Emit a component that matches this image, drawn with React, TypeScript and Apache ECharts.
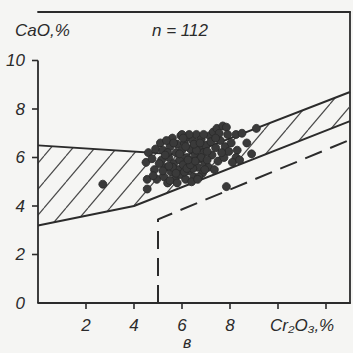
import React, { useEffect, useRef } from "react";
import * as echarts from "echarts";

// ---- data ----
const xTickValues = [2, 4, 6, 8, 10, 12];
const xLabelValues = [2, 4, 6, 8];
const yTickValues = [2, 4, 6, 8, 10];
const yAxisLineExtent = [0, 10];

const upperBound = [
  [0, 6.5],
  [6.2, 6.1],
  [13, 8.7],
];
const lowerBound = [
  [0, 3.2],
  [4, 4.0],
  [13, 7.5],
];
const dashedBound = [
  [5, 0],
  [5, 3.45],
  [13, 6.73],
];

const samples = [
  [4.5, 5.8], [4.6, 6.2], [4.55, 5.1], [4.55, 4.7], [4.85, 5.5], [4.95, 5.1], [4.75, 5.95], [4.9, 6.35], [4.8, 5.25],
  [5.1, 6.6], [5.2, 6.3], [5.15, 5.9], [5.3, 5.6], [5.25, 5.2], [5.4, 4.95], [5.45, 6.0], [5.5, 6.45], [5.55, 5.4],
  [5.6, 6.8], [5.65, 5.75], [5.7, 5.1], [5.75, 6.2], [5.8, 6.55], [5.85, 5.5], [5.9, 5.9], [5.95, 6.9], [5.35, 6.7],
  [5.05, 5.75], [5.5, 5.05], [5.8, 4.95], [5.95, 5.3], [5.4, 6.2], [5.65, 6.6], [5.2, 5.45],
  [6.0, 6.3], [6.05, 5.7], [6.1, 6.6], [6.15, 5.1], [6.2, 6.0], [6.25, 6.85], [6.3, 5.45], [6.35, 6.35], [6.4, 5.85],
  [6.45, 6.7], [6.5, 5.2], [6.55, 6.1], [6.6, 6.95], [6.65, 5.6], [6.7, 6.45], [6.75, 5.95], [6.8, 6.75], [6.85, 5.35],
  [6.9, 6.2], [6.95, 5.75], [6.1, 5.4], [6.3, 6.95], [6.45, 5.55], [6.6, 6.3], [6.2, 5.55], [6.5, 6.55], [6.8, 6.0],
  [6.0, 6.95], [6.4, 5.0], [6.7, 5.2],
  [7.0, 6.5], [7.1, 5.6], [7.15, 6.9], [7.25, 6.1], [7.3, 7.05], [7.4, 6.4], [7.45, 7.2], [7.5, 5.85], [7.6, 6.7],
  [7.7, 7.3], [7.75, 6.0], [7.8, 6.45], [7.85, 7.25], [7.9, 6.95], [7.95, 6.25], [7.05, 5.9], [7.35, 5.5], [7.55, 7.0],
  [7.65, 6.2], [7.2, 6.65],
  [8.05, 6.6], [8.25, 6.95], [8.3, 6.3], [8.25, 6.0], [8.5, 7.0], [8.9, 6.15], [9.1, 7.2], [8.1, 5.8], [8.7, 6.6], [8.4, 5.9],
  [2.7, 4.9], [7.85, 4.8],
  [5.3, 6.1], [5.6, 5.6], [5.9, 6.15], [6.15, 6.45], [6.35, 5.7], [6.55, 5.85], [6.75, 6.6], [6.9, 6.95], [7.05, 6.25],
  [5.75, 5.35], [6.25, 5.9], [6.65, 5.1], [5.45, 5.65], [6.05, 6.8], [7.4, 6.8], [6.95, 5.5],
];

const sampleCountLabel = "n = 112";
const yTitle = "CaO,%";
const xTitle = "Cr₂O₃,%";
const panelLabel = "в";

const INK = "#2b2b2b";
const FONT = "'Liberation Sans', 'DejaVu Sans', sans-serif";

function makeHatch(): HTMLCanvasElement {
  const w = 22;
  const h = 26;
  const c = document.createElement("canvas");
  c.width = w;
  c.height = h;
  const ctx = c.getContext("2d")!;
  ctx.strokeStyle = "#4a4a4a";
  ctx.lineWidth = 1.2;
  for (const dx of [-w, 0, w]) {
    ctx.beginPath();
    ctx.moveTo(dx, h);
    ctx.lineTo(dx + w, 0);
    ctx.stroke();
  }
  return c;
}

export default function App() {
  const ref = useRef<HTMLDivElement>(null);

  useEffect(() => {
    if (!ref.current) return;
    const chart = echarts.init(ref.current, undefined, { renderer: "svg" });
    const hatch = makeHatch();
    const bandPolygon = [...upperBound, ...[...lowerBound].reverse()];

    const textStyle = {
      fontFamily: FONT,
      fontStyle: "italic",
      fontSize: 17,
    };
    const axisLabelStyle = {
      fontFamily: FONT,
      fontStyle: "italic",
      fontSize: 17,
      color: INK,
    };
    const lineSt = { color: INK, width: 1.8 };
    const TICK = 6;

    chart.setOption({
      animation: false,
      backgroundColor: "#f5f5f3",
      grid: { left: 38, right: 2, top: 12, bottom: 50 },
      xAxis: [
        {
          type: "value",
          min: 0,
          max: 13,
          interval: 2,
          position: "bottom",
          axisLine: { show: true, onZero: false, lineStyle: lineSt },
          axisTick: { show: false },
          axisLabel: {
            ...axisLabelStyle,
            lineHeight: 15,
            margin: 15,
            formatter: (v: number) => (xLabelValues.includes(v) ? String(v) : ""),
          },
          splitLine: { show: false },
        },
        {
          type: "value",
          min: 0,
          max: 13,
          position: "top",
          axisLine: { show: true, onZero: false, lineStyle: lineSt },
          axisTick: { show: false },
          axisLabel: { show: false },
          splitLine: { show: false },
        },
      ],
      yAxis: [
        {
          type: "value",
          min: 0,
          max: 12,
          interval: 2,
          position: "left",
          axisLine: { show: false },
          axisTick: { show: false },
          axisLabel: {
            ...axisLabelStyle,
            margin: 13,
            formatter: (v: number) => (v <= yAxisLineExtent[1] ? String(v) : ""),
          },
          splitLine: { show: false },
        },
        {
          type: "value",
          min: 0,
          max: 12,
          position: "right",
          axisLine: { show: true, onZero: false, lineStyle: lineSt },
          axisTick: { show: false },
          axisLabel: { show: false },
          splitLine: { show: false },
        },
      ],
      series: [
        {
          type: "custom",
          xAxisIndex: 0,
          yAxisIndex: 0,
          silent: true,
          z: 1,
          data: [[0, 0]],
          renderItem: (_params: any, api: any) => {
            const pts = bandPolygon.map((p) => api.coord(p));
            return {
              type: "polygon",
              shape: { points: pts },
              style: { fill: { image: hatch, repeat: "repeat" }, stroke: "none" },
            };
          },
        },
        {
          // left axis line (drawn only up to 10)
          type: "line",
          xAxisIndex: 0,
          yAxisIndex: 0,
          data: yAxisLineExtent.map((v) => [0, v]),
          symbol: "none",
          clip: false,
          z: 5,
          lineStyle: { color: INK, width: 1.8 },
        },
        {
          // x ticks
          type: "custom",
          xAxisIndex: 0,
          yAxisIndex: 0,
          silent: true,
          clip: false,
          z: 5,
          data: xTickValues.map((v) => [v, 0]),
          renderItem: (_params: any, api: any) => {
            const p = api.coord([api.value(0), api.value(1)]);
            return {
              type: "line",
              shape: { x1: p[0], y1: p[1], x2: p[0], y2: p[1] + TICK },
              style: { stroke: INK, lineWidth: 1.6 },
            };
          },
        },
        {
          // y ticks
          type: "custom",
          xAxisIndex: 0,
          yAxisIndex: 0,
          silent: true,
          clip: false,
          z: 5,
          data: yTickValues.map((v) => [0, v]),
          renderItem: (_params: any, api: any) => {
            const p = api.coord([api.value(0), api.value(1)]);
            return {
              type: "line",
              shape: { x1: p[0] - TICK, y1: p[1], x2: p[0], y2: p[1] },
              style: { stroke: INK, lineWidth: 1.6 },
            };
          },
        },
        {
          type: "line",
          xAxisIndex: 0,
          yAxisIndex: 0,
          data: upperBound,
          symbol: "none",
          z: 3,
          lineStyle: { color: INK, width: 2 },
        },
        {
          type: "line",
          xAxisIndex: 0,
          yAxisIndex: 0,
          data: lowerBound,
          symbol: "none",
          z: 3,
          lineStyle: { color: INK, width: 2 },
        },
        {
          type: "line",
          xAxisIndex: 0,
          yAxisIndex: 0,
          data: dashedBound,
          symbol: "none",
          z: 3,
          lineStyle: { color: INK, width: 2, type: [18, 9] },
        },
        {
          type: "scatter",
          xAxisIndex: 0,
          yAxisIndex: 0,
          data: samples,
          symbol: "circle",
          symbolSize: 8,
          z: 4,
          itemStyle: { color: "#3a3a3a", borderColor: "#2a2a2a", borderWidth: 0.8, opacity: 1 },
        },
      ],
      graphic: [
        { type: "text", left: 15, top: 22, style: { ...textStyle, text: yTitle, fill: INK } },
        { type: "text", left: 152, top: 22, style: { ...textStyle, text: sampleCountLabel, fill: INK } },
        { type: "text", left: 270, top: 317, style: { ...textStyle, text: xTitle, fill: INK } },
        {
          type: "text",
          left: 183,
          top: 334,
          style: { ...textStyle, fontSize: 16, lineHeight: 14, text: panelLabel, fill: INK },
        },
      ],
    });

    return () => chart.dispose();
  }, []);

  return (
    <div
      ref={ref}
      style={{ position: "fixed", left: 0, top: 0, width: 353, height: 353 }}
    />
  );
}
